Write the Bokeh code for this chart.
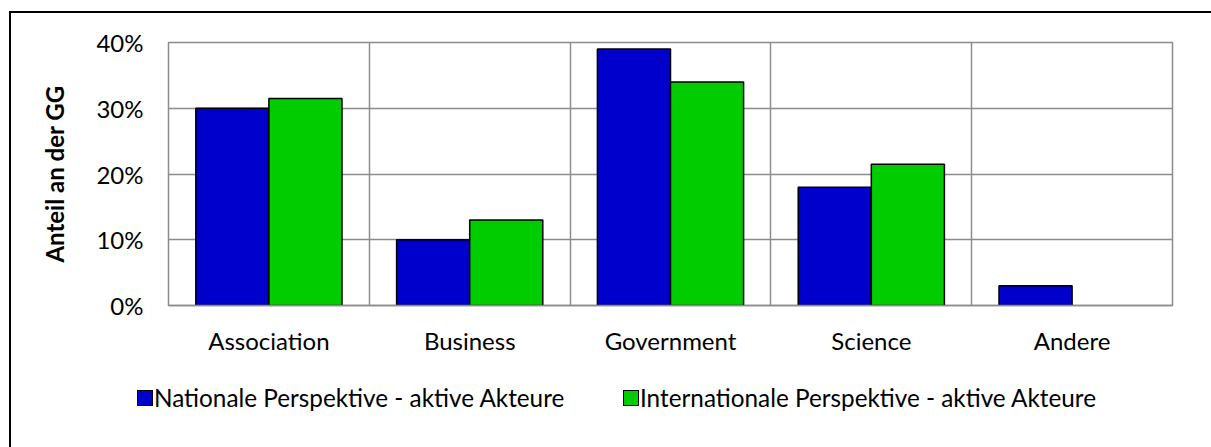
from bokeh.plotting import figure
from bokeh.models import (ColumnDataSource, FixedTicker, PrintfTickFormatter,
                          Range1d, InlineStyleSheet, Div)
from bokeh.layouts import column
from bokeh.embed import file_html
from bokeh.resources import INLINE

categories = ["Association", "Business", "Government", "Science", "Andere"]
national = [30, 10, 39, 18, 3]
international = [31.5, 13, 34, 21.5, 0]
y_ticks = [0, 10, 20, 30, 40]
series_names = ["Nationale Perspektive - aktive Akteure",
                "Internationale Perspektive - aktive Akteure"]
colors = ["#0000CC", "#00CC00"]

FONT = "Lato"
FS = "24px"

W, H = 1211, 447
H1 = 362
frame_left, frame_right, frame_top, frame_bottom = 168, 1172, 42, 305

p = figure(width=W, height=H1, output_backend="svg", toolbar_location=None,
           x_range=Range1d(0, len(categories)), y_range=Range1d(0, 40),
           min_border_left=frame_left, min_border_right=W - frame_right,
           min_border_top=frame_top, min_border_bottom=H1 - frame_bottom)

bar_w = 0.364
offs = [-bar_w / 2, bar_w / 2]
for vals, col, off, name in zip([national, international], colors, offs, series_names):
    xs = [i + 0.5 + off for i, v in enumerate(vals) if v > 0]
    tops = [v for v in vals if v > 0]
    src = ColumnDataSource(dict(x=xs, top=tops))
    p.vbar(x="x", top="top", width=bar_w, source=src, fill_color=col,
           line_color="black", line_width=1.5, name=name)

grid_col = "#8c8c8c"
p.outline_line_color = grid_col
p.outline_line_width = 1.5
p.background_fill_color = "white"
p.border_fill_color = None

# y axis
p.yaxis.ticker = FixedTicker(ticks=y_ticks)
p.yaxis.formatter = PrintfTickFormatter(format="%d%%")
p.yaxis.axis_line_color = None
p.yaxis.major_tick_line_color = None
p.yaxis.minor_tick_line_color = None
p.yaxis.major_tick_out = 0
p.yaxis.major_tick_in = 0
p.yaxis.major_label_standoff = 25
p.yaxis.major_label_text_font = FONT
p.yaxis.major_label_text_font_size = FS
p.yaxis.major_label_text_color = "black"
p.yaxis.axis_label = "Anteil an der GG"
p.yaxis.axis_label_text_font = FONT
p.yaxis.axis_label_text_font_size = FS
p.yaxis.axis_label_text_font_style = "bold"
p.yaxis.axis_label_text_color = "black"
p.yaxis.axis_label_standoff = 24

# x axis
p.xaxis.ticker = FixedTicker(ticks=[i + 0.5 for i in range(len(categories))])
p.xaxis.major_label_overrides = {i + 0.5: c for i, c in enumerate(categories)}
p.xaxis.axis_line_color = grid_col
p.xaxis.axis_line_width = 1.5
p.xaxis.major_tick_line_color = None
p.xaxis.minor_tick_line_color = None
p.xaxis.major_tick_out = 0
p.xaxis.major_tick_in = 0
p.xaxis.major_label_standoff = 20
p.xaxis.major_label_text_font = FONT
p.xaxis.major_label_text_font_size = FS
p.xaxis.major_label_text_color = "black"

# grids
p.ygrid.ticker = FixedTicker(ticks=y_ticks)
p.ygrid.grid_line_color = grid_col
p.ygrid.grid_line_width = 1.5
p.xgrid.ticker = FixedTicker(ticks=list(range(len(categories) + 1)))
p.xgrid.grid_line_color = grid_col
p.xgrid.grid_line_width = 1.5

# legend strip (HTML) below the chart
H2 = H - H1
swatch_left = [132, 618]
items_html = ""
for name, col, sx in zip(series_names, colors, swatch_left):
    items_html += (
        f'<span style="position:absolute;left:{sx}px;top:23px;width:16px;height:16px;'
        f'box-sizing:border-box;background:{col};border:1.5px solid black;"></span>'
        f'<span style="position:absolute;left:{sx + 17}px;top:19px;line-height:1;'
        f'white-space:nowrap;">{name}</span>'
    )
legend_div = Div(width=W, height=H2,
                 text=(f'<div style="position:relative;width:{W}px;height:{H2}px;'
                       f'font-family:Lato;font-size:24.3px;color:black;">{items_html}</div>'))

layout = column(p, legend_div, spacing=0)
layout.stylesheets = [InlineStyleSheet(css="""
:host { position: relative; overflow: hidden; background: white; }
:host::after { content: ''; position: absolute; left: 9px; top: 11px;
  width: 1300px; height: 600px;
  border-left: 2px solid black; border-top: 2px solid black; pointer-events: none; }
""")]

open("out.html", "w").write(file_html(layout, INLINE))
